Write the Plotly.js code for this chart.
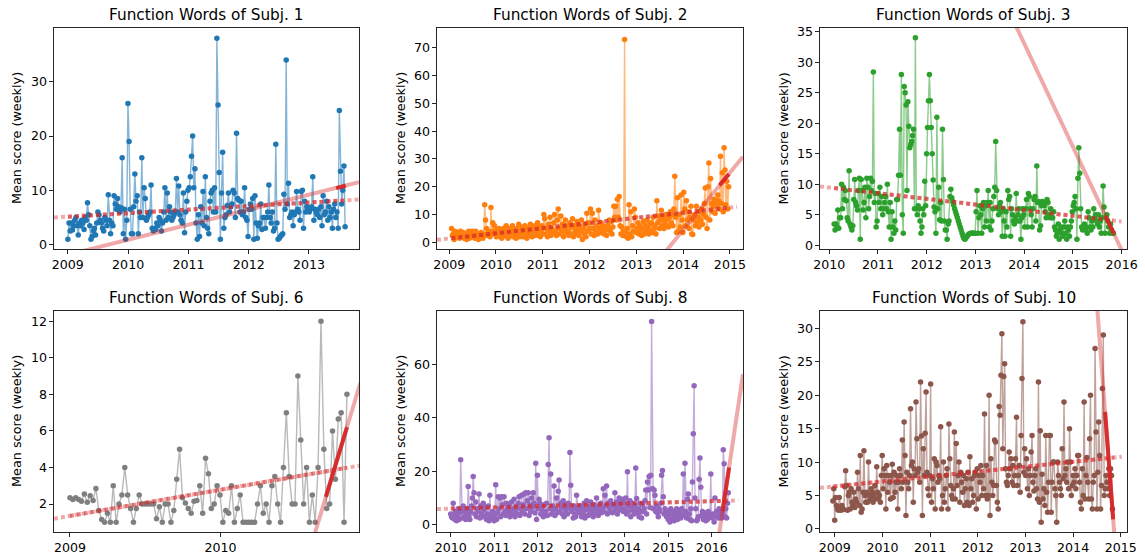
<!DOCTYPE html>
<html>
<head>
<meta charset="utf-8">
<script src="https://cdn.plot.ly/plotly-3.0.1.min.js"></script>
<style>html,body{margin:0;padding:0;background:#fff}#chart{width:1145px;height:556px}</style>
</head>
<body>
<div id="chart"></div>
<script>
// ---------- DATA ----------
const weekStep = 7 / 365.25; // one weekly sample, in years

// Subject 1
const s1Start = 2009.0;
const s1Values = [
  1, 4, 2.5, 4, 2.7, 3.5, 4.5, 5, 3.5, 1.8, 4, 3.5, 4.5,
  4, 2.8, 5, 4.5, 7.7, 5.5, 3.5, 1, 1.5, 2.5, 3, 1.8, 4,
  6, 5.5, 4.5, 4, 3, 2.5, 5, 4.5, 3.5, 9.2, 4.5, 2, 4,
  3.5, 9, 7.5, 6.5, 8.5, 7, 6, 6.8, 16, 2, 6.5, 1, 4.5,
  26, 19, 6.5, 2, 2, 7, 13, 8, 9, 2, 6, 5, 16,
  5, 10.5, 8.5, 4.5, 5, 5.5, 6, 11, 3, 2.5, 3, 2.8, 4,
  3.5, 5, 4.5, 2.5, 4, 6, 10.5, 4.5, 9.5, 5, 7, 6, 4.5,
  5, 5.5, 6, 12.2, 6, 10.8, 5.5, 4.5, 4, 9.5, 2.2, 6, 8,
  10, 10.5, 12.5, 16.3, 20, 10.5, 14, 4, 1, 5.5, 1.5, 7, 4,
  9.8, 3.5, 12.5, 5, 3, 2, 8, 9.5, 10, 6, 10.5, 6, 38,
  25.7, 13.3, 1, 9.5, 17, 3, 5, 5.5, 7.2, 9.5, 6, 7, 7.5,
  10, 9.5, 5, 20.5, 8.5, 8.2, 6, 8, 5.5, 6, 10.5, 5, 4.5,
  1.5, 6.5, 7.5, 6.5, 8.5, 1, 9, 4, 1.2, 3.5, 4, 7.5, 2.8,
  5, 5, 3, 5, 6, 11, 5, 4, 6, 2.5, 3, 18.5, 4,
  1, 1.2, 1.5, 1.8, 2, 9.3, 6.5, 34, 7.5, 11.3, 5, 5.5, 6,
  3.5, 5.5, 6, 9.8, 6.5, 6, 4.5, 9.8, 10, 3, 8, 6, 7,
  6.5, 6, 6.5, 7, 12.5, 4.5, 6.5, 6, 5.5, 6.5, 5, 7, 3.5,
  9, 5.5, 6, 8, 4.5, 7, 5, 6, 3, 6.5, 7.5, 5, 6,
  3, 24.7, 13.5, 7.5, 10, 14.5, 3.3
];
const s1LongFitX = [2008.77, 2013.83], s1LongFitY = [5.0, 8.3];
const s1LongFitDataX = [2009.0, 2013.61], s1LongFitDataY = [5.15, 8.16];
const s1ShortFitX = [2009.2, 2013.83], s1ShortFitY = [-1.3, 11.5];
const s1ShortFitDataX = [2013.45, 2013.61], s1ShortFitDataY = [10.4, 10.85];

// Subject 2
const s2Start = 2009.05;
const s2Values = [
  5, 2.5, 3, 1, 4, 2, 3.5, 2, 3, 1.5, 4, 3, 2.5,
  3.5, 1.5, 2.5, 3, 1, 2, 4, 1.5, 2.5, 3, 4, 2, 3.5,
  1.5, 4, 2, 3, 1, 2.5, 2, 3.5, 2, 1.5, 3, 13.5, 8,
  5, 2.5, 3.5, 4, 2, 12.5, 3, 7, 4, 6, 3, 2, 4.5,
  3, 5, 2, 4, 1.5, 3.5, 5, 2.5, 4, 6, 3, 1.5, 4,
  5, 2.5, 3.5, 6, 2, 4.5, 3, 1.5, 5, 3.5, 6.5, 2, 4,
  3, 5.5, 2, 4, 6, 3, 1.5, 5, 2.5, 4, 6.5, 3, 2,
  5, 3.5, 6, 2.5, 4, 7, 3, 5.5, 2, 4.5, 6, 3, 10,
  8.5, 3, 5, 2, 6.5, 4, 9, 2.5, 5, 3.5, 7, 10, 4,
  2.5, 8, 12, 5, 3, 9.5, 4, 6.5, 2, 5, 8, 3.5, 6,
  4, 2.5, 7, 3, 5.5, 8.5, 2, 6, 4, 3, 7.5, 5, 2.5,
  6, 4, 8, 1, 5, 3, 6.5, 2, 10.5, 4, 7, 5, 12,
  3, 10.5, 5, 2.5, 8, 4, 6, 3, 11.5, 5, 3.5, 7, 4,
  6, 3, 5, 4.5, 2.5, 6, 5, 8, 4, 7.5, 3, 5.5, 13,
  9, 13, 8, 15.5, 9, 16.5, 6, 3, 5.5, 2.5, 4, 73, 3.5,
  2, 5, 1.5, 13.5, 3, 11, 2, 6, 4, 12, 9, 3.5, 5,
  7, 3, 6, 4.5, 2.5, 5, 7.5, 3, 6, 4, 8, 5, 3,
  6.5, 4, 7, 3.5, 9, 5, 6, 3, 15, 7, 9.5, 5, 8,
  11.5, 6, 9, 5, 7.5, 10, 6, 8.5, 5.5, 9, 11, 7, 10,
  6, 12, 23.8, 9, 3.5, 16, 4, 10, 5.5, 17, 8, 3.5, 18,
  12, 6, 15, 8, 11, 5, 9, 13, 3, 2.8, 8, 10, 6,
  13, 7, 9, 5.5, 11, 8, 12, 6.5, 10, 14, 19.5, 9, 5,
  20, 28.5, 8, 23, 14, 11, 13, 15.5, 10.5, 14, 13.5, 17, 15,
  12, 31, 14, 25, 11, 34, 26, 13.5, 22, 12, 20
];
const s2LongFitX = [2008.74, 2015.15], s2LongFitY = [0.9, 12.8];
const s2LongFitDataX = [2009.05, 2014.98], s2LongFitDataY = [1.48, 12.49];
const s2ShortFitX = [2013.6, 2015.28], s2ShortFitY = [-3.84, 30.8];
const s2ShortFitDataX = [2014.78, 2014.98], s2ShortFitDataY = [20.5, 24.6];

// Subject 3
const s3Start = 2010.1;
const s3Values = [
  3.5, 2.5, 3.5, 3, 5.8, 2.8, 4.5, 4.5, 10, 6, 9.5, 7.5, 9, 7.3, 4.5, 4, 12.2, 3.5, 3, 2.5, 3.2, 7.5, 10.8, 7, 6.5, 5.8,
  9, 11, 1, 10.8, 9, 5.8, 7, 9.5, 4.5, 11, 9.5, 6, 8, 11, 9, 10.5, 28.4, 7, 8.5, 3, 4, 8.5, 7, 9.5, 6, 8,
  5, 6, 7, 8, 6, 10, 5.5, 3, 7, 1, 5.5, 3, 2, 4, 2.5, 7.5, 7.5, 11.5, 19, 11.5, 28, 5, 2, 26, 25, 23,
  9, 23.5, 19.5, 16, 16.5, 17, 18, 19, 6, 34, 6, 5, 6.5, 6, 4, 2, 3, 6, 5, 10.5, 6.5, 15, 19.3, 23.7, 28, 23.7,
  19.3, 15, 10.7, 6.3, 5.5, 2, 21, 6, 9.5, 4.2, 7, 4, 19, 10.8, 4, 2.5, 2.5, 1, 3.5, 4, 8, 9.2, 7.8, 7.2, 6.6, 6.0,
  5.5, 5.0, 4.5, 4.0, 3.5, 3.0, 2.5, 2.0, 1.5, 1.1, 1.0, 1.2, 1.4, 1.6, 1.8, 1.9, 2, 2, 2, 2, 2, 2, 5.5, 9, 2, 4.5,
  6.5, 5, 2, 6, 7, 3, 6.5, 4, 7, 9, 3, 7, 2.5, 4, 6, 8, 9.5, 17, 9, 6, 5, 6.5, 7, 5.5, 1.5, 6,
  4, 1.5, 5.5, 3, 9, 7.5, 8, 1.5, 6, 5, 4, 3.5, 4.5, 8.5, 4, 5, 6, 4, 1, 4.5, 6, 5, 3, 6, 7.5, 3,
  8.5, 8, 6, 5, 3, 6, 7.5, 8, 4, 13, 7, 7.2, 2.5, 3.2, 6.5, 7.2, 7, 6.5, 5.5, 4.5, 7.5, 7, 5, 4.5, 6, 4.5,
  4.5, 5.5, 3, 2.5, 1.5, 2, 3.5, 1, 2.5, 3, 2, 1.5, 3, 4, 2, 1, 3, 2.5, 1.5, 3, 4, 5.5, 6.5, 7, 8, 6,
  1, 11, 16, 11.8, 6, 3, 2.5, 2.8, 3.5, 2.5, 3, 2, 5.5, 4.5, 3, 2.5, 4, 3, 6, 4.5, 5, 4, 3.5, 5, 3, 4,
  2, 4.5, 9.7, 6.3, 2, 4.5, 5, 4, 3, 2, 3.5, 2.5, 2, 2
];
const s3LongFitX = [2009.81, 2016.0], s3LongFitY = [9.65, 3.9];
const s3LongFitDataX = [2010.1, 2015.83], s3LongFitDataY = [9.38, 4.06];
const s3ShortFitX = [2013.8, 2016.05], s3ShortFitY = [36.45, -1.62];
const s3ShortFitDataX = [2015.67, 2015.84], s3ShortFitDataY = [4.8, 1.93];

// Subject 6
const s6Start = 2009.0;
const s6Values = [
  2.35, 2.25, 2.35, 2.25, 2.15, 2.55, 2.1, 2.45, 2.2, 2.85,
  1.65, 1.15, 1.0, 1.5, 1.0, 3.0, 1.0, 2.0, 2.5, 4.0,
  2.5, 1.75, 1.0, 1.75, 2.5, 2.0, 2.0, 2.0, 2.0, 2.0,
  1.2, 1.85, 1.0, 2.0, 2.0, 1.0, 1.65, 3.35, 5.0, 2.35,
  2.05, 1.75, 1.5, 2.15, 2.2, 3.0, 1.5, 4.5, 3.65, 1.75,
  2.0, 3.0, 2.5, 1.0, 1.65, 1.5, 3.0, 1.0, 1.75, 2.5,
  1.0, 1.0, 1.0, 1.0, 1.0, 2.0, 3.0, 1.5, 2.0, 1.0,
  3.0, 3.5, 2.0, 1.0, 4.0, 7.0, 3.5, 2.0, 2.0, 9.0,
  5.5, 2.0, 4.0, 1.0, 2.5, 1.0, 4.0, 12.0, 5.0, 1.75,
  2.0, 6.0, 3.35, 6.65, 7.0, 1.0, 8.0
];
const s6LongFitX = [2008.894, 2010.92], s6LongFitY = [1.2, 4.1];
const s6LongFitDataX = [2009.0, 2010.84], s6LongFitDataY = [1.35, 3.99];
const s6ShortFitX = [2010.6, 2010.93], s6ShortFitY = [-0.33, 8.65];
const s6ShortFitDataX = [2010.70, 2010.84], s6ShortFitDataY = [2.39, 6.2];

// Subject 8
const s8Start = 2010.0;
const s8Values = [
  4, 3, 2.5, 8, 3.5, 2, 5, 1.5, 3, 6, 2, 4.5, 24.3,
  5, 2.5, 7, 3, 5.5, 2, 4, 6, 14.3, 3.5, 2, 5, 7,
  10, 18, 12, 4, 8.5, 3, 6, 5, 11.5, 2.5, 7, 4, 3,
  8, 5.5, 3, 6.5, 2, 4, 7, 1.5, 11, 3, 2.5, 5, 4,
  1.5, 3, 15, 2, 4.5, 10.5, 6, 10, 3, 10.5, 7.5, 4, 10.5,
  5, 3.5, 8, 6, 4.5, 7.5, 3, 5.5, 8.5, 4, 6, 9.5, 3,
  5.5, 7, 4, 8, 10.5, 3.5, 6, 11, 5, 7.5, 11.5, 4, 12,
  6, 9, 12, 3.5, 7.5, 5, 10, 6.5, 12, 8, 4.5, 23, 2,
  18.5, 6, 9.5, 8, 4, 6.5, 5, 3, 7.5, 4.5, 5, 8, 3.5,
  22.5, 32.5, 6, 19, 4, 7, 5.5, 14.5, 3.5, 6, 10, 4.5, 12.5,
  16.7, 5, 8, 6.5, 4, 9, 3, 7.5, 5.5, 6, 4, 8, 6.5,
  27, 14.8, 5, 6, 2.5, 7, 4, 3, 11, 6, 5, 4.5, 7,
  5, 3, 6.5, 4, 8, 2.5, 5.5, 9, 6, 3.5, 7, 5, 8.5,
  4, 6, 3, 7.5, 5, 4.5, 10, 6, 3.5, 7, 5, 8, 4.5,
  6, 13.5, 5, 11, 7, 14.5, 4, 8, 6.5, 5, 9, 7, 4.5,
  7.5, 5, 12, 6, 8.5, 4, 7, 10, 5.5, 8, 6, 9.5, 5,
  8, 6, 10, 4, 19.8, 5, 7, 9, 3, 6.5, 8, 5.5, 4,
  7, 21.2, 9.8, 4.5, 6, 3, 8, 5, 2.5, 7.5, 5, 6, 9,
  13, 4, 16, 13, 18, 6.5, 18.5, 76, 13.5, 6, 13, 11, 5,
  7, 4.5, 3, 6, 5, 8, 18.5, 20.3, 10.5, 4, 6, 5, 3,
  5, 2, 4.5, 1, 6, 3, 2.5, 5, 1.5, 4, 3, 6, 2,
  4.5, 3, 5, 2.5, 6, 3.5, 19, 4, 23, 5, 2.5, 9.5, 11.5,
  4, 2, 6, 1.5, 16, 34, 52, 10, 6, 1.5, 2, 3, 17,
  25, 14, 3.5, 5, 2, 4, 3, 1.5, 4.5, 2, 5, 3, 4,
  19, 3, 2.5, 4, 1, 10, 3, 5, 4, 2.5, 6, 3, 5,
  2.5, 4.5, 28, 22.8, 3, 6, 2.5, 8, 12
];
const s8LongFitX = [2009.685, 2016.61], s8LongFitY = [5.9, 9.1];
const s8LongFitDataX = [2010.0, 2016.38], s8LongFitDataY = [6.05, 9.0];
const s8ShortFitX = [2016.15, 2016.72], s8ShortFitY = [-5.8, 56.3];
const s8ShortFitDataX = [2016.25, 2016.40], s8ShortFitDataY = [5.1, 21.4];

// Subject 10
const s10Start = 2008.96;
const s10Values = [
  4.2, 6, 1.3, 4.7, 3.5, 3, 2.8, 4.7, 3.3, 2.8, 3.5, 3, 2.9,
  6.3, 8.7, 6.5, 2.8, 5, 5.5, 3, 6, 4, 3.5, 5.5, 3.2, 4.5,
  4, 8.5, 6, 3.5, 11, 2.5, 3, 5.5, 11.7, 5, 4, 5.5, 4,
  10, 5, 4.5, 6, 5.5, 4, 5, 6.5, 4.5, 9.3, 5.5, 4.5, 5,
  4, 8, 11, 6, 9, 8, 3, 9.5, 5.5, 8, 7, 4.5, 8,
  9.7, 4.7, 8.5, 5.5, 7, 8, 3, 7, 9, 8, 6, 13.3, 7,
  16, 11, 2, 8.5, 7, 6, 8, 18, 9.5, 10, 4, 9, 8,
  19, 13.5, 8.5, 9, 7, 22, 13.9, 2, 12, 8, 14.3, 20.5, 8.5,
  6, 5, 8, 21.7, 4, 7.5, 6, 10.5, 3, 10, 9.5, 7, 8,
  7.5, 15.3, 3, 5, 10, 4, 6, 8, 9, 3, 15.7, 10.5, 6.5,
  5, 4.5, 6, 14.5, 4.5, 12.8, 6.5, 8, 10, 4, 8.5, 7, 5.5,
  8, 3.5, 6, 7.5, 4, 8.5, 3.5, 10.8, 6, 7.5, 4, 5, 8,
  8.5, 3, 9, 4.5, 8, 7, 9.5, 5, 8, 6, 17.2, 5, 9.5,
  4.5, 5, 20, 2, 10.5, 7, 5, 6.5, 13.3, 13, 6.5, 4, 3,
  18.3, 17, 23, 29.2, 12, 22.8, 24.7, 9, 7, 6.5, 8, 11.5, 9,
  10.5, 7, 9.5, 6.5, 8, 10.5, 16.7, 6.5, 8, 9.5, 5.5, 14, 22.5,
  31, 8.5, 12, 8, 10.5, 6, 9, 5, 8, 11.5, 14, 7, 5.7,
  8, 9, 6, 4.5, 22, 4, 14.7, 1, 8.2, 4.5, 6, 3.5, 14,
  5.5, 2.5, 7, 14, 14, 2.5, 7, 10, 10, 6, 5, 1, 10,
  8, 7, 6, 5, 12, 7.5, 19, 8, 9, 7, 10, 6, 15,
  10, 5, 6.5, 8, 7, 9, 6, 8, 11, 11, 7, 4, 3,
  9, 5, 19, 4.5, 8, 10.7, 7, 4.5, 13.5, 20, 4.5, 3, 7,
  8, 27, 14.5, 3, 8.5, 16, 11, 3, 6.5, 21, 29, 5, 6,
  8, 7, 6, 9, 5, 9, 8, 3
];
const s10LongFitX = [2008.69, 2015.02], s10LongFitY = [6.15, 10.8];
const s10LongFitDataX = [2008.96, 2014.86], s10LongFitDataY = [6.35, 10.68];
const s10ShortFitX = [2014.49, 2014.88], s10ShortFitY = [34.5, -2.3];
const s10ShortFitDataX = [2014.67, 2014.84], s10ShortFitDataY = [17.5, 1.45];

const titles = ["Function Words of Subj. 1", "Function Words of Subj. 2", "Function Words of Subj. 3",
                "Function Words of Subj. 6", "Function Words of Subj. 8", "Function Words of Subj. 10"];
const yLabel = "Mean score (weekly)";
const colors = ["#1f77b4", "#ff7f0e", "#2ca02c", "#7f7f7f", "#9467bd", "#8c564b"];
const xRanges = [[2008.77, 2013.83], [2008.74, 2015.28], [2009.81, 2016.11],
                 [2008.894, 2010.92], [2009.685, 2016.72], [2008.69, 2015.13]];
const yRanges = [[-0.8, 39.9], [-2.4, 77.1], [-0.6, 35.6], [0.47, 12.56], [-2.7, 79.9], [-0.45, 32.6]];
const xTicks = [[2009, 2010, 2011, 2012, 2013], [2009, 2010, 2011, 2012, 2013, 2014, 2015],
                [2010, 2011, 2012, 2013, 2014, 2015, 2016], [2009, 2010],
                [2010, 2011, 2012, 2013, 2014, 2015, 2016], [2009, 2010, 2011, 2012, 2013, 2014, 2015]];
const yTicks = [[0, 10, 20, 30], [0, 10, 20, 30, 40, 50, 60, 70], [0, 5, 10, 15, 20, 25, 30, 35],
                [2, 4, 6, 8, 10, 12], [0, 20, 40, 60], [0, 5, 10, 15, 20, 25, 30]];

// ---------- BUILD ----------
const subjects = [
  {start: s1Start, v: s1Values, lf: [s1LongFitX, s1LongFitY], lfd: [s1LongFitDataX, s1LongFitDataY], sf: [s1ShortFitX, s1ShortFitY], sfd: [s1ShortFitDataX, s1ShortFitDataY]},
  {start: s2Start, v: s2Values, lf: [s2LongFitX, s2LongFitY], lfd: [s2LongFitDataX, s2LongFitDataY], sf: [s2ShortFitX, s2ShortFitY], sfd: [s2ShortFitDataX, s2ShortFitDataY]},
  {start: s3Start, v: s3Values, lf: [s3LongFitX, s3LongFitY], lfd: [s3LongFitDataX, s3LongFitDataY], sf: [s3ShortFitX, s3ShortFitY], sfd: [s3ShortFitDataX, s3ShortFitDataY]},
  {start: s6Start, v: s6Values, lf: [s6LongFitX, s6LongFitY], lfd: [s6LongFitDataX, s6LongFitDataY], sf: [s6ShortFitX, s6ShortFitY], sfd: [s6ShortFitDataX, s6ShortFitDataY]},
  {start: s8Start, v: s8Values, lf: [s8LongFitX, s8LongFitY], lfd: [s8LongFitDataX, s8LongFitDataY], sf: [s8ShortFitX, s8ShortFitY], sfd: [s8ShortFitDataX, s8ShortFitDataY]},
  {start: s10Start, v: s10Values, lf: [s10LongFitX, s10LongFitY], lfd: [s10LongFitDataX, s10LongFitDataY], sf: [s10ShortFitX, s10ShortFitY], sfd: [s10ShortFitDataX, s10ShortFitDataY]}
];

const W = 1145, H = 556;
const colPx = [[54, 359], [437, 743], [820, 1127]];
const rowPx = [[28, 249], [311, 532]];
const yLabelPx = [16.5, 400.5, 783];
const titlePy = [15, 298];

const FONT = "DejaVu Sans, Liberation Sans, sans-serif";
const TICK_SIZE = 12.6, LABEL_SIZE = 12.8, TITLE_SIZE = 15.3;
const RED_LIGHT = "rgba(214,39,40,0.4)";
const RED_MID = "rgba(214,39,40,0.55)";
const RED_DARK = "rgba(214,39,40,0.95)";

function rgba(hex, a) {
  const n = parseInt(hex.slice(1), 16);
  return `rgba(${(n >> 16) & 255},${(n >> 8) & 255},${n & 255},${a})`;
}

const traces = [];
const layout = {
  width: W, height: H,
  margin: {l: 0, r: 0, t: 0, b: 0},
  paper_bgcolor: "#ffffff", plot_bgcolor: "#ffffff",
  showlegend: false,
  font: {family: FONT, color: "#000", size: TICK_SIZE},
  annotations: []
};

subjects.forEach((s, i) => {
  const n = i + 1;
  const xa = n === 1 ? "x" : "x" + n;
  const ya = n === 1 ? "y" : "y" + n;
  const col = i % 3, row = Math.floor(i / 3);
  const xs = s.v.map((_, k) => s.start + k * weekStep);

  traces.push({
    x: xs, y: s.v, xaxis: xa, yaxis: ya, type: "scatter", mode: "lines+markers",
    line: {color: rgba(colors[i], 0.55), width: 1.4},
    marker: {color: colors[i], size: 5.5}, hoverinfo: "x+y"
  });
  traces.push({x: s.lf[0], y: s.lf[1], xaxis: xa, yaxis: ya, mode: "lines",
    line: {color: RED_LIGHT, width: 4, dash: "4px,3px"}, hoverinfo: "skip"});
  traces.push({x: s.lfd[0], y: s.lfd[1], xaxis: xa, yaxis: ya, mode: "lines",
    line: {color: RED_MID, width: 4, dash: "4px,3px"}, hoverinfo: "skip"});
  traces.push({x: s.sf[0], y: s.sf[1], xaxis: xa, yaxis: ya, mode: "lines",
    line: {color: RED_LIGHT, width: 4}, hoverinfo: "skip"});
  traces.push({x: s.sfd[0], y: s.sfd[1], xaxis: xa, yaxis: ya, mode: "lines",
    line: {color: RED_DARK, width: 4}, hoverinfo: "skip"});

  const common = {
    showline: true, mirror: true, linecolor: "#000", linewidth: 0.85,
    ticks: "outside", ticklen: 3.7, tickwidth: 0.85, tickcolor: "#000",
    showgrid: false, zeroline: false, fixedrange: true,
    tickfont: {family: FONT, size: TICK_SIZE, color: "#000"}
  };
  layout[n === 1 ? "xaxis" : "xaxis" + n] = Object.assign({}, common, {
    domain: [colPx[col][0] / W, colPx[col][1] / W],
    anchor: ya, range: xRanges[i],
    tickmode: "array", tickvals: xTicks[i], ticktext: xTicks[i].map(String)
  });
  layout[n === 1 ? "yaxis" : "yaxis" + n] = Object.assign({}, common, {
    domain: [1 - rowPx[row][1] / H, 1 - rowPx[row][0] / H],
    anchor: xa, range: yRanges[i],
    tickmode: "array", tickvals: yTicks[i], ticktext: yTicks[i].map(String)
  });

  layout.annotations.push({
    text: titles[i], xref: "paper", yref: "paper",
    x: (colPx[col][0] + colPx[col][1]) / 2 / W, y: 1 - titlePy[row] / H,
    xanchor: "center", yanchor: "middle", showarrow: false,
    font: {family: FONT, size: TITLE_SIZE, color: "#000"}
  });
  layout.annotations.push({
    text: yLabel, xref: "paper", yref: "paper", textangle: -90,
    x: yLabelPx[col] / W, y: 1 - (rowPx[row][0] + rowPx[row][1]) / 2 / H,
    xanchor: "center", yanchor: "middle", showarrow: false,
    font: {family: FONT, size: LABEL_SIZE, color: "#000"}
  });
});

Plotly.newPlot("chart", traces, layout, {staticPlot: true, displayModeBar: false});
</script>
</body>
</html>
